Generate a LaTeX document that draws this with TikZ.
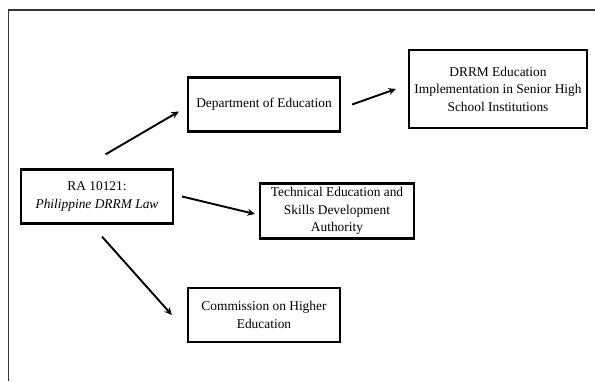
\documentclass[tikz,border=0pt]{standalone}
\usepackage{fontspec}
\setmainfont{Liberation Serif}
\usetikzlibrary{arrows.meta}
\begin{document}
\begin{tikzpicture}[x=1pt,y=-1pt,
        box/.style={draw, line width=2.2pt, align=center, inner sep=4pt,
            minimum width=152pt, minimum height=54pt,
            font=\fontsize{13.4}{17.5}\selectfont},
        arr/.style={line width=1.9pt, -{Stealth[length=7.5pt,width=7pt]}}]
    \useasboundingbox (0,0) rectangle (595,381);
    \draw[line width=1.4pt, black!80] (8.5,381) -- (8.5,10) -- (595,10);

    \node[box] (ra) at (97,196.5) {RA 10121:\\\textit{Philippine DRRM Law}};
    \node[box] (deped) at (264,104.5) {Department of Education};
    \node[box, minimum width=178pt, minimum height=78pt] (drrm) at (498,89)
        {DRRM Education\\Implementation in Senior High\\School Institutions};
    \node[box, minimum width=154pt] (tesda) at (337,211)
        {Technical Education and\\Skills Development\\Authority};
    \node[box] (ched) at (264,315) {Commission on Higher\\Education};

    \draw[arr] ([xshift=8.5pt,yshift=14pt]ra.north) -- ([xshift=-8pt,yshift=-7pt]deped.west);
    \draw[arr] ([xshift=11pt]deped.east) -- ([xshift=-12pt]drrm.west);
    \draw[arr] ([xshift=8pt]ra.east) -- ([xshift=-4pt,yshift=-3pt]tesda.west);
    \draw[arr] ([xshift=5pt,yshift=-12pt]ra.south) -- ([xshift=-15pt]ched.west);
\end{tikzpicture}
\end{document}
